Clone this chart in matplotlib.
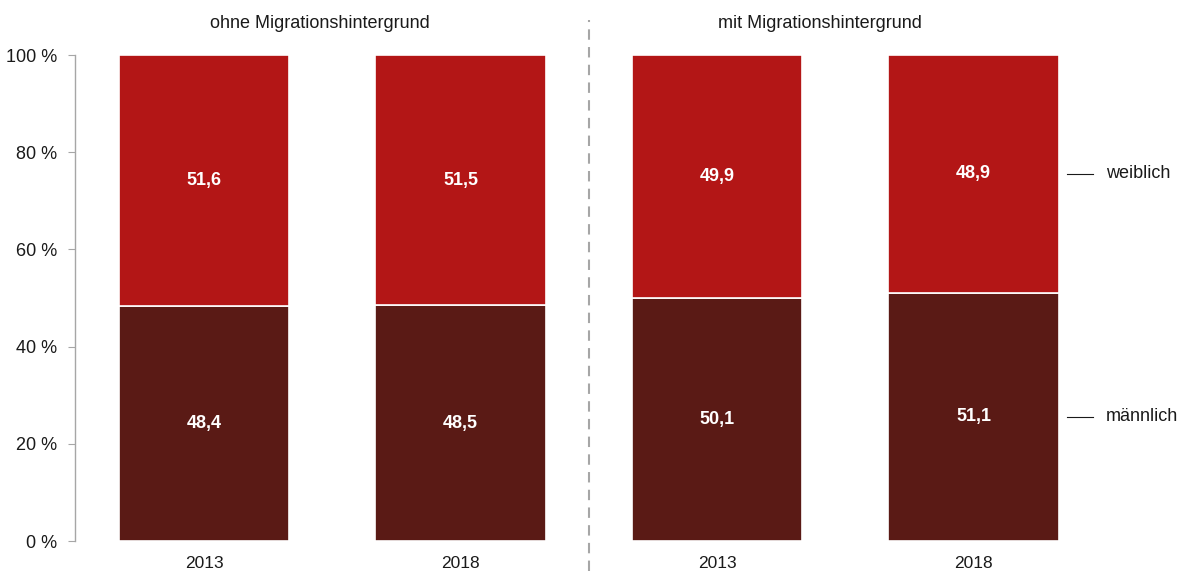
import matplotlib
matplotlib.use("Agg")
import matplotlib.pyplot as plt

plt.rcParams['font.family'] = ['Liberation Sans', 'DejaVu Sans']

groups = ["ohne Migrationshintergrund", "mit Migrationshintergrund"]
years = ["2013", "2018", "2013", "2018"]
maennlich = [48.4, 48.5, 50.1, 51.1]
weiblich = [51.6, 51.5, 49.9, 48.9]
series_names = ["männlich", "weiblich"]
yticks = [0, 20, 40, 60, 80, 100]

c_dark = "#5A1A15"
c_red = "#B31616"

W, H = 1182, 571
fig = plt.figure(figsize=(W / 100, H / 100), dpi=100)
ax = fig.add_axes([75 / W, 30 / H, 1026.75 / W, 486 / H])

x = list(range(len(years)))
bw = 0.663
ax.bar(x, maennlich, width=bw, color=c_dark, edgecolor="white", linewidth=1.2)
ax.bar(x, weiblich, width=bw, bottom=maennlich, color=c_red, edgecolor="white", linewidth=1.2)

for i in x:
    ax.text(i, maennlich[i] / 2, f"{maennlich[i]:.1f}".replace(".", ","),
            ha="center", va="center", color="white", fontsize=13, fontweight="bold")
    ax.text(i, maennlich[i] + weiblich[i] / 2, f"{weiblich[i]:.1f}".replace(".", ","),
            ha="center", va="center", color="white", fontsize=13, fontweight="bold")

ax.set_xlim(-0.503, 3.5)
ax.set_ylim(0, 100)
ax.set_yticks(yticks)
ax.set_yticklabels([f"{t} %" for t in yticks], fontsize=13, color="#1a1a1a")
ax.set_xticks(x)
ax.set_xticklabels(years, fontsize=12.5, color="#1a1a1a")
ax.tick_params(axis="x", length=0, pad=11)
ax.tick_params(axis="y", length=5, color="#A6A6A6", pad=8)
for s in ["top", "right", "bottom"]:
    ax.spines[s].set_visible(False)
ax.spines["left"].set_color("#A6A6A6")
ax.spines["left"].set_linewidth(1)

# group titles
ax.text(0.452, 106.4, groups[0], ha="center", va="center", fontsize=13, color="#1a1a1a", clip_on=False)
ax.text(2.402, 106.4, groups[1], ha="center", va="center", fontsize=13, color="#1a1a1a", clip_on=False)

# divider
ax.axvline(1.501, ymin=-0.062, ymax=1.072, color="#A6A6A6", linewidth=1.5,
           linestyle=(0, (5, 3.5)), clip_on=False)

# series labels on right
last = len(x) - 1
ypos = [maennlich[last] / 2, maennlich[last] + weiblich[last] / 2]
for name, yv in zip(series_names, ypos):
    ax.plot([3.365, 3.466], [yv, yv], color="#1a1a1a", linewidth=0.8, clip_on=False)
    ax.text(3.516, yv, name, ha="left", va="center", fontsize=13, color="#1a1a1a", clip_on=False)

fig.savefig("out.png", dpi=100)
